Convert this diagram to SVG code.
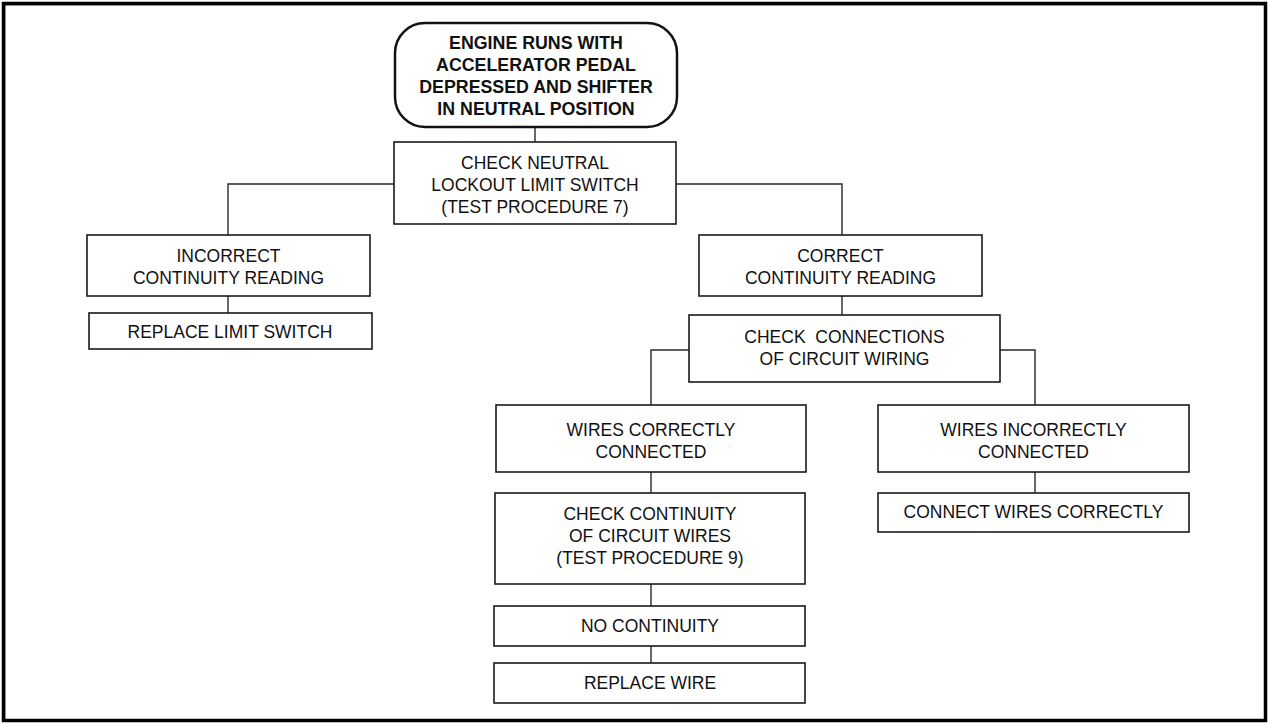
<svg xmlns="http://www.w3.org/2000/svg" width="1268" height="723" viewBox="0 0 1268 723">
  <style>
    .box { fill: #ffffff; stroke: #1a1a1a; stroke-width: 1.6; }
    .term { fill: #ffffff; stroke: #111111; stroke-width: 2.5; }
    .wire { fill: none; stroke: #2a2a2a; stroke-width: 1.4; }
    .lbl { font-family: "Liberation Sans", Arial, sans-serif; font-size: 17.5px; fill: #111111; text-anchor: middle; }
    .bold { font-weight: bold; font-size: 17.8px; }
  </style>

  <!-- page frame -->
  <rect x="3.5" y="3.5" width="1262" height="717" fill="#ffffff" stroke="#000000" stroke-width="3.5"/>
  <path d="M4.5 3 V721 M3 4.5 H1266" fill="none" stroke="#000000" stroke-width="1.5"/>

  <!-- connectors -->
  <g id="connectors">
    <line class="wire" x1="535" y1="127" x2="535" y2="142"/>
    <polyline class="wire" points="394,184 228,184 228,235"/>
    <polyline class="wire" points="676,184 842,184 842,235"/>
    <line class="wire" x1="228" y1="296" x2="228" y2="313"/>
    <line class="wire" x1="842" y1="296" x2="842" y2="315"/>
    <polyline class="wire" points="689,350 651,350 651,405"/>
    <polyline class="wire" points="1000,350 1035,350 1035,405"/>
    <line class="wire" x1="651" y1="472" x2="651" y2="493"/>
    <line class="wire" x1="651" y1="584" x2="651" y2="606"/>
    <line class="wire" x1="651" y1="646" x2="651" y2="663"/>
    <line class="wire" x1="1035" y1="472" x2="1035" y2="493"/>
  </g>

  <g id="start">
    <rect class="term" x="395" y="23" width="282" height="104" rx="30" ry="30"/>
    <text class="lbl bold" x="536" y="49">ENGINE RUNS WITH</text>
    <text class="lbl bold" x="536" y="71">ACCELERATOR PEDAL</text>
    <text class="lbl bold" x="536" y="93">DEPRESSED AND SHIFTER</text>
    <text class="lbl bold" x="536" y="115">IN NEUTRAL POSITION</text>
  </g>

  <g id="check-neutral">
    <rect class="box" x="394" y="142" width="282" height="82"/>
    <text class="lbl" x="535" y="169">CHECK NEUTRAL</text>
    <text class="lbl" x="535" y="191">LOCKOUT LIMIT SWITCH</text>
    <text class="lbl" x="535" y="213">(TEST PROCEDURE 7)</text>
  </g>

  <g id="incorrect-reading">
    <rect class="box" x="87" y="235" width="283" height="61"/>
    <text class="lbl" x="228.5" y="262">INCORRECT</text>
    <text class="lbl" x="228.5" y="284">CONTINUITY READING</text>
  </g>

  <g id="replace-switch">
    <rect class="box" x="89" y="313" width="283" height="36"/>
    <text class="lbl" x="230" y="338">REPLACE LIMIT SWITCH</text>
  </g>

  <g id="correct-reading">
    <rect class="box" x="699" y="235" width="283" height="61"/>
    <text class="lbl" x="840.5" y="262">CORRECT</text>
    <text class="lbl" x="840.5" y="284">CONTINUITY READING</text>
  </g>

  <g id="check-connections">
    <rect class="box" x="689" y="315" width="311" height="67"/>
    <text class="lbl" x="844.5" y="343" xml:space="preserve">CHECK  CONNECTIONS</text>
    <text class="lbl" x="844.5" y="365">OF CIRCUIT WIRING</text>
  </g>

  <g id="wires-correct">
    <rect class="box" x="496" y="405" width="310" height="67"/>
    <text class="lbl" x="651" y="436">WIRES CORRECTLY</text>
    <text class="lbl" x="651" y="458">CONNECTED</text>
  </g>

  <g id="check-continuity">
    <rect class="box" x="495" y="493" width="310" height="91"/>
    <text class="lbl" x="650" y="520">CHECK CONTINUITY</text>
    <text class="lbl" x="650" y="542">OF CIRCUIT WIRES</text>
    <text class="lbl" x="650" y="564">(TEST PROCEDURE 9)</text>
  </g>

  <g id="no-continuity">
    <rect class="box" x="494" y="606" width="311" height="40"/>
    <text class="lbl" x="650" y="632">NO CONTINUITY</text>
  </g>

  <g id="replace-wire">
    <rect class="box" x="494" y="663" width="311" height="40"/>
    <text class="lbl" x="650" y="689">REPLACE WIRE</text>
  </g>

  <g id="wires-incorrect">
    <rect class="box" x="878" y="405" width="311" height="67"/>
    <text class="lbl" x="1033.5" y="436">WIRES INCORRECTLY</text>
    <text class="lbl" x="1033.5" y="458">CONNECTED</text>
  </g>

  <g id="connect-correctly">
    <rect class="box" x="878" y="493" width="311" height="39"/>
    <text class="lbl" x="1033.5" y="518">CONNECT WIRES CORRECTLY</text>
  </g>
</svg>
